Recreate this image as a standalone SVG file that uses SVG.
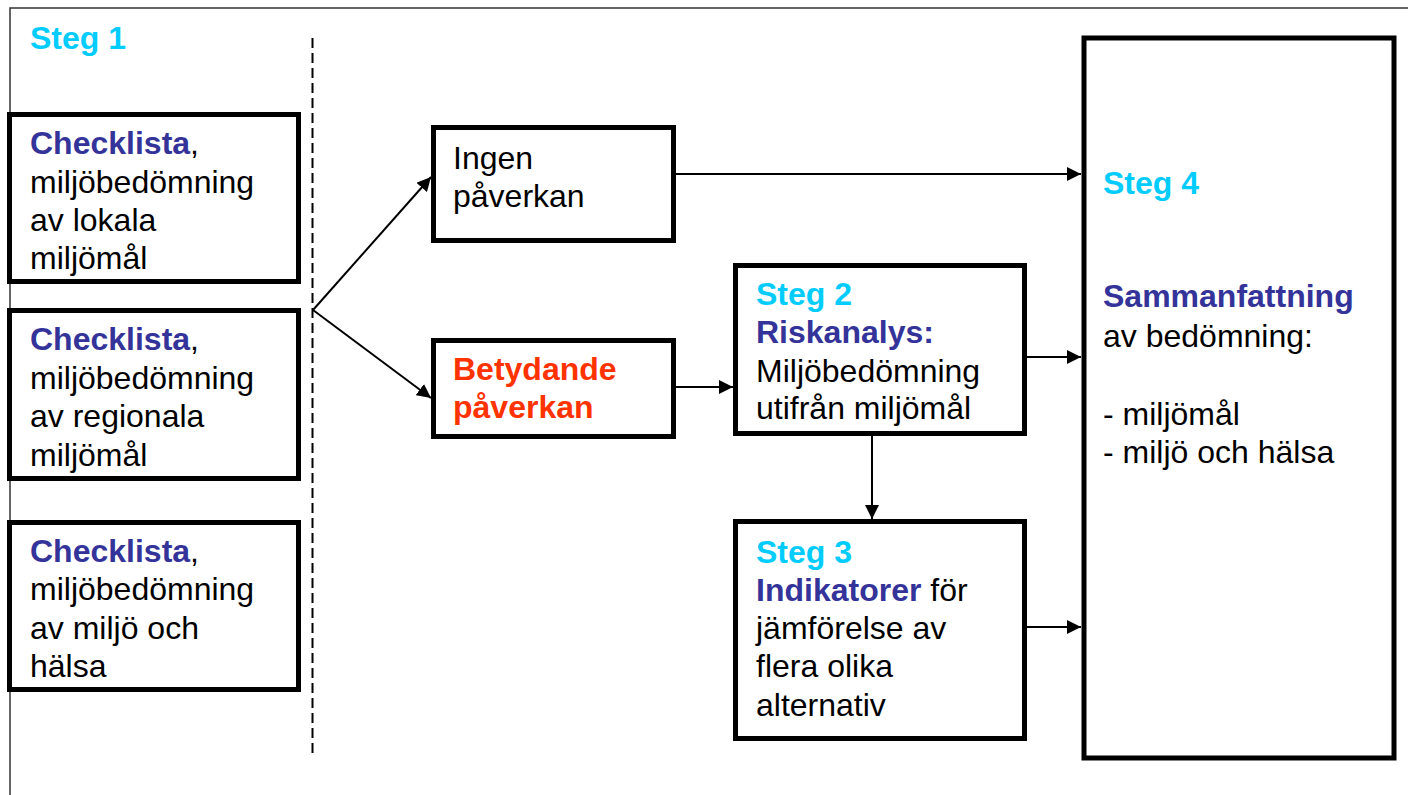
<svg xmlns="http://www.w3.org/2000/svg" width="1408" height="795" viewBox="0 0 1408 795">
<style>
text{font-family:"Liberation Sans",Arial,sans-serif;font-size:32px;fill:#000}
.b{font-weight:bold}
.steg{fill:#00CCFF;font-weight:bold}
.navy{fill:#333399;font-weight:bold}
.red{fill:#FF3300;font-weight:bold}
.box{fill:#fff;stroke:#000;stroke-width:5}
.con{stroke:#000;stroke-width:2;fill:none}
</style>
<defs>
<marker id="ah" markerUnits="userSpaceOnUse" markerWidth="14" markerHeight="14" refX="14" refY="7" orient="auto">
<path d="M0,0 L14,7 L0,14 z" fill="#000"/>
</marker>
</defs>
<rect x="10" y="8" width="1420" height="800" fill="#fff" stroke="#333" stroke-width="1.5"/>
<text x="30" y="49" class="steg">Steg 1</text>
<line x1="312.5" y1="38" x2="312.5" y2="757" stroke="#000" stroke-width="2" stroke-dasharray="10 5"/>
<g id="checklista-lokala">
<rect class="box" x="9.5" y="114.5" width="289" height="167"/>
<text x="30" y="154"><tspan class="navy">Checklista</tspan>,</text>
<text x="30" y="193">miljöbedömning</text>
<text x="30" y="231">av lokala</text>
<text x="30" y="269">miljömål</text>
</g>
<g id="checklista-regionala">
<rect class="box" x="9.5" y="310.5" width="289" height="168"/>
<text x="30" y="350"><tspan class="navy">Checklista</tspan>,</text>
<text x="30" y="389">miljöbedömning</text>
<text x="30" y="427">av regionala</text>
<text x="30" y="466">miljömål</text>
</g>
<g id="checklista-halsa">
<rect class="box" x="9.5" y="522.5" width="289" height="167"/>
<text x="30" y="562"><tspan class="navy">Checklista</tspan>,</text>
<text x="30" y="600">miljöbedömning</text>
<text x="30" y="639">av miljö och</text>
<text x="30" y="677">hälsa</text>
</g>
<g id="ingen">
<rect class="box" x="433.5" y="127.5" width="240" height="113"/>
<text x="453" y="169">Ingen</text>
<text x="453" y="207">påverkan</text>
</g>
<g id="betydande">
<rect class="box" x="433.5" y="340.5" width="240" height="96"/>
<text x="453" y="380" class="red">Betydande</text>
<text x="453" y="418" class="red">påverkan</text>
</g>
<g id="steg2">
<rect class="box" x="735.5" y="265.5" width="289" height="168"/>
<text x="756" y="305" class="steg">Steg 2</text>
<text x="756" y="343" class="navy">Riskanalys:</text>
<text x="756" y="382">Miljöbedömning</text>
<text x="756" y="419">utifrån miljömål</text>
</g>
<g id="steg3">
<rect class="box" x="735.5" y="521.5" width="289" height="217"/>
<text x="756" y="563" class="steg">Steg 3</text>
<text x="756" y="601"><tspan class="navy">Indikatorer</tspan> för</text>
<text x="756" y="639">jämförelse av</text>
<text x="756" y="677">flera olika</text>
<text x="756" y="716">alternativ</text>
</g>
<g id="steg4">
<rect class="box" x="1084" y="38" width="310" height="720" stroke-width="6"/>
<text x="1103" y="194" class="steg">Steg 4</text>
<text x="1103" y="307" class="navy">Sammanfattning</text>
<text x="1103" y="347">av bedömning:</text>
<text x="1103" y="425">- miljömål</text>
<text x="1103" y="463">- miljö och hälsa</text>
</g>
<g id="connectors">
<line class="con" x1="313" y1="310" x2="431" y2="177" marker-end="url(#ah)"/>
<line class="con" x1="313" y1="310" x2="431" y2="398" marker-end="url(#ah)"/>
<line class="con" x1="676" y1="174" x2="1081" y2="174" marker-end="url(#ah)"/>
<line class="con" x1="676" y1="387" x2="733" y2="387" marker-end="url(#ah)"/>
<line class="con" x1="1027" y1="357" x2="1081" y2="357" marker-end="url(#ah)"/>
<line class="con" x1="872" y1="436" x2="872" y2="519" marker-end="url(#ah)"/>
<line class="con" x1="1027" y1="627" x2="1081" y2="627" marker-end="url(#ah)"/>
</g>
</svg>
